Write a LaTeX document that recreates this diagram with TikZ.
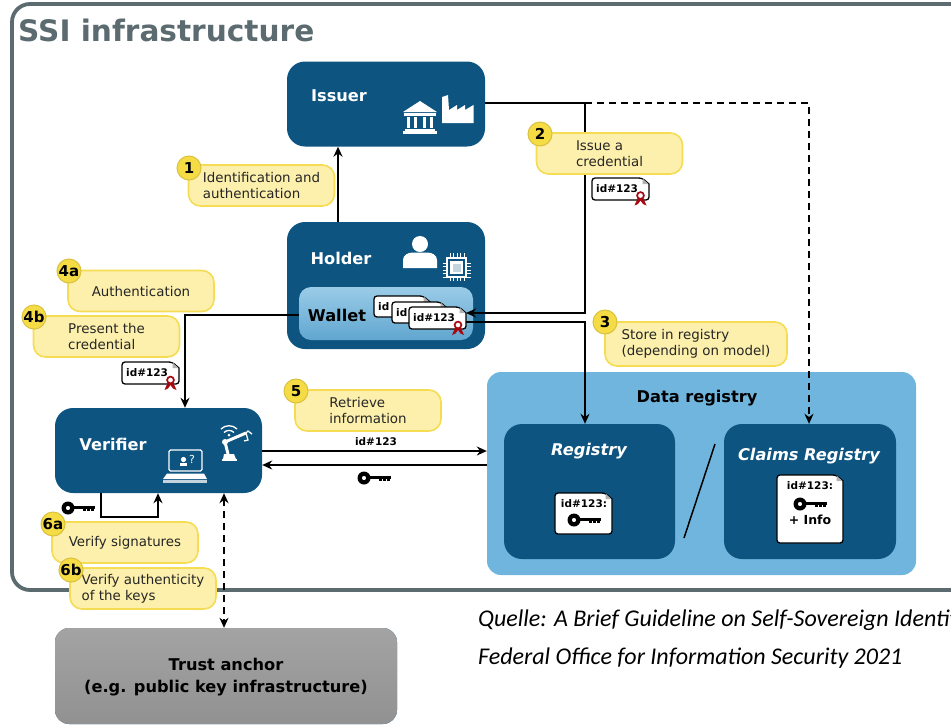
\documentclass[tikz,border=0pt]{standalone}
\usepackage{fontspec}
\setmainfont{DejaVu Sans}
\newfontfamily\sourcefont{Carlito}
\usetikzlibrary{arrows.meta,calc}

\definecolor{boxblue}{HTML}{0D5481}
\definecolor{regblue}{HTML}{6FB5DD}
\definecolor{framegray}{HTML}{5B6B70}
\definecolor{noteyellow}{HTML}{FCF0AC}
\definecolor{noteline}{HTML}{F6DC52}
\definecolor{badgeyellow}{HTML}{F5DC45}
\definecolor{badgeline}{HTML}{D9C142}
\definecolor{sealred}{HTML}{A8080F}

\tikzset{
	box/.style={fill=boxblue,rounded corners=18pt,inner sep=0pt},
	boxlabel/.style={text=white,font=\fontsize{16.2}{20}\selectfont\bfseries,inner sep=0pt},
	note/.style={draw=noteline,fill=noteyellow,line width=1.6pt,rounded corners=12pt,minimum width=146pt,minimum height=41pt,inner sep=0pt,align=left,text=black!85,font=\fontsize{13.4}{16}\selectfont},
	badge/.style={circle,draw=badgeline,fill=badgeyellow,line width=1pt,minimum size=24pt,inner sep=0pt,font=\fontsize{15}{16}\selectfont\bfseries},
	flow/.style={line width=1.5pt,-{Stealth[length=10pt,width=9pt]}},
	flowdash/.style={flow,dash pattern=on 7pt off 5pt},
	doclabel/.style={inner sep=0pt,font=\fontsize{10.5}{12}\selectfont\bfseries},
	keyicon/.pic={
		\fill[even odd rule] (-11,0) circle[radius=6.5pt] (-11,0) circle[radius=2.2pt];
		\fill (-6,-2.2) rectangle (16,1.2);
		\foreach \t in {4,8,12}
			\fill (\t,0) rectangle (\t+2.5,3.2);
	},
	sealicon/.pic={
		\fill[sealred] (-2.5,2) -- (-6,10) -- (-2.5,8.5) -- (0,5) -- (2.5,8.5) -- (6,10) -- (2.5,2) -- cycle;
		\draw[sealred,fill=white,line width=1.7pt] (0,0) circle[radius=3.4pt];
	}
}

% name, x1, y1, x2, y2, text
\newcommand{\docnode}[6]{
	\draw[fill=white,line width=1.3pt,rounded corners=3pt] (#2,#5) -- (#2,#3) -- (#4-7,#3) [sharp corners] -- (#4,#3+6) [rounded corners=3pt] -- (#4,#5) -- cycle;
	\fill[black!30] (#4-6.5,#3+.5) -- (#4-.5,#3+6) -- (#4-6.5,#3+6) -- cycle;
	\node[doclabel,anchor=west] (#1) at ($(#2+4,#3)!.5!(#2+4,#5)$) {#6};
}

\begin{document}
\begin{tikzpicture}[x=1pt,y=-1pt]
	\path[use as bounding box,clip] (0,0) rectangle (951,724);

	% Frame
	\draw[framegray,line width=3.8pt,rounded corners=18pt] (1000,4) -- (12,4) -- (12,590) -- (1000,590);
	\node[anchor=west,inner sep=0pt,text=framegray,font=\fontsize{29.6}{34}\selectfont\bfseries] (title) at (18,30) {SSI infrastructure};

	% Boxes
	\node[box,minimum width=198pt,minimum height=85pt] (issuer) at (386,104) {};
	\node[box,minimum width=198pt,minimum height=127pt] (holder) at (386,285.5) {};
	\node[box,minimum width=174pt,minimum height=53pt,top color=regblue!70!white,bottom color=regblue!85!boxblue,rounded corners=12pt] (wallet) at (386,313.5) {};
	\node[box,minimum width=207pt,minimum height=85pt] (verifier) at (158.5,450.5) {};
	\node[box,fill=regblue,rounded corners=14pt,minimum width=429pt,minimum height=203pt] (dataregistry) at (701.5,473.5) {};
	\node[box,minimum width=171pt,minimum height=135pt] (registry) at (589.5,491.5) {};
	\node[box,minimum width=172pt,minimum height=135pt] (claims) at (810,491.5) {};
	\node[box,top color=black!36,bottom color=black!43,rounded corners=14pt,minimum width=342pt,minimum height=96pt] (anchor) at (226,676) {};

	% Box labels
	\node[boxlabel] (issuertext) at (339,96) {Issuer};
	\node[boxlabel] (holdertext) at (341,258) {Holder};
	\node[boxlabel,text=black] (wallettext) at (337,315) {Wallet};
	\node[boxlabel] (verifiertext) at (113,444) {Verifier};
	\node[boxlabel,text=black] (datatext) at (697,398) {Data registry};
	\node[boxlabel,font=\fontsize{16.2}{20}\selectfont\bfseries\itshape] (registrytext) at (589,451) {Registry};
	\node[boxlabel,font=\fontsize{16.2}{20}\selectfont\bfseries\itshape] (claimstext) at (809,456) {Claims Registry};
	\node[boxlabel,text=black,align=center,font=\fontsize{16.2}{22}\selectfont\bfseries] (anchortext) at (226,677) {Trust anchor\\(e.g. public key infrastructure)};

	% Issuer icons
	\fill[white] (403,112) -- (420,101) -- (437,112) -- cycle;
	\fill[white] (404,113) rectangle (436,115.5);
	\foreach \c in {407,414,423,430}
		\fill[white] (\c,116.5) rectangle (\c+3.4,128);
	\fill[white] (405,128.5) rectangle (435,130.5);
	\fill[white] (403,131) rectangle (437,133.5);
	\fill[white] (442,123) -- (442,97) -- (448,95) -- (449,110) -- (457,105) -- (457,110) -- (465,105) -- (465,110) -- (473.5,105) -- (473.5,123) -- cycle;

	% Holder icons
	\fill[white] (420,244) circle[radius=8pt];
	\fill[white] (403,268) -- (403,260) .. controls (403,255) and (408,252.5) .. (413,252.5) -- (427,252.5) .. controls (432,252.5) and (437,255) .. (437,260) -- (437,268) -- cycle;
	\foreach \p in {450,453.5,457,460.5,464} {
		\draw[white,line width=.8pt] (\p,253) -- (\p,281);
		\draw[white,line width=.8pt] (442.5,\p-187) -- (470.5,\p-187);
	}
	\draw[white,line width=1.2pt,fill=boxblue] (447,258) rectangle (466,277);
	\fill[white] (450,261) rectangle (463,274);
	\fill[boxblue!25] (452.5,263.5) rectangle (460.5,271.5);

	% Verifier icons
	\draw[white,line width=1.2pt,rounded corners=1.5pt] (169,450) rectangle (202,471);
	\fill[white] (180,466) -- (180,463) -- (187,463) -- (187,466) -- cycle;
	\fill[white] (183.5,459.5) circle[radius=2.6pt];
	\node[inner sep=0pt,text=white,font=\fontsize{11}{12}\selectfont] (laptopmark) at (192,459) {?};
	\fill[white] (167,473.5) -- (204,473.5) -- (207,479) -- (163,479) -- cycle;
	\fill[white!75!boxblue] (163,480) rectangle (207,483);
	\draw[white,line width=1.3pt] (221,429) to[bend left=45] (237,429);
	\draw[white,line width=1.3pt] (224,432.5) to[bend left=45] (234,432.5);
	\fill[white] (229,435) circle[radius=1.5pt];
	\fill[white] (222,459) rectangle (237,460.5);
	\fill[white] (224,454) -- (234,454) -- (236,459) -- (223,459) -- cycle;
	\draw[white,line width=3pt] (228,454) -- (225,442) -- (246,433);
	\fill[white] (225,442) circle[radius=3pt];
	\draw[white,line width=1.3pt] (246,433) -- (248,431) -- (252,434);
	\draw[white,line width=1.3pt] (246,433) -- (248,440) -- (244,441);

	% Documents
	\docnode{heldone}{374}{296}{430}{317}{id}
	\docnode{heldtwo}{392}{302}{447}{323}{id}
	\docnode{heldthree}{409}{307}{466}{329}{id\#123}
	\pic at (458,325) {sealicon};
	\docnode{issued}{592}{178}{649}{200}{id\#123}
	\pic at (640.5,195.5) {sealicon};
	\docnode{presented}{122}{362}{179}{384}{id\#123}
	\pic at (170.5,380) {sealicon};
	\docnode{regdoc}{555}{493}{612}{534}{}
	\node[doclabel] (regid) at (584,504) {id\#123:};
	\pic at (585,520) {keyicon};
	\docnode{claimdoc}{777}{475}{843}{543}{}
	\node[doclabel] (claimid) at (810,486) {id\#123:};
	\pic at (811,504) {keyicon};
	\node[inner sep=0pt,font=\fontsize{12.5}{14}\selectfont\bfseries] (claiminfo) at (810,520) {+ Info};

	% Connectors
	\coordinate (upline) at (338,0);
	\coordinate (branch) at (585,103);
	\coordinate (issuein) at (585,313);
	\coordinate (storeout) at (585,322);
	\coordinate (dashturn) at (809,103);
	\coordinate (presentturn) at (185,315);
	\coordinate (idline) at (0,451);
	\coordinate (keyline) at (0,465);
	\coordinate (loopa) at (101,517);
	\coordinate (loopb) at (158,517);
	\coordinate (trustline) at (224,0);
	\coordinate (docright) at (466,0);
	\draw[flow] (holder.north -| upline) -- (issuer.south -| upline);
	\draw[flow] (issuer.east |- branch) -- (branch) -- (issuein) -- (docright |- issuein);
	\draw[flowdash] (branch) -- (dashturn) -- (claims.north -| dashturn);
	\draw[flow] (docright |- storeout) -- (storeout) -- (registry.north -| storeout);
	\draw[flow] (wallet.west |- presentturn) -- (presentturn) -- (verifier.north -| presentturn);
	\draw[flow] (verifier.east |- idline) -- (dataregistry.west |- idline);
	\draw[flow] (dataregistry.west |- keyline) -- (verifier.east |- keyline);
	\draw[flow] (verifier.south -| loopa) -- (loopa) -- (loopb) -- (verifier.south -| loopb);
	\draw[flowdash,{Stealth[length=10pt,width=9pt]}-{Stealth[length=10pt,width=9pt]}] (verifier.south -| trustline) -- (anchor.north -| trustline);
	\draw[line width=1.5pt] (684,538) -- (715,444);

	% Connector marks
	\node[doclabel] (idtext) at (376,442) {id\#123};
	\pic at (375,478) {keyicon};
	\pic at (79,508) {keyicon};

	% Notes
	\node[note] (noteone) at (261.5,185.5) {Identification and\\authentication};
	\node[note] (notetwo) at (609.5,153.5) {Issue a\\credential};
	\node[note,minimum width=182pt,minimum height=44pt] (notethree) at (696,344) {Store in registry\\(depending on model)};
	\node[note] (notefoura) at (141,291) {Authentication};
	\node[note] (notefourb) at (106.5,336.5) {Present the\\credential};
	\node[note] (notefive) at (368,410.5) {Retrieve\\information};
	\node[note] (notesixa) at (125,542.5) {Verify signatures};
	\node[note] (notesixb) at (143,588.5) {Verify authenticity\\of the keys};

	% Badges
	\node[badge] (badgeone) at (189,168) {1};
	\node[badge] (badgetwo) at (540,134) {2};
	\node[badge] (badgethree) at (605,322) {3};
	\node[badge] (badgefoura) at (69,271) {4a};
	\node[badge] (badgefourb) at (34,317) {4b};
	\node[badge] (badgefive) at (296,391) {5};
	\node[badge] (badgesixa) at (53,524) {6a};
	\node[badge] (badgesixb) at (71,570) {6b};

	% Source
	\node[anchor=west,inner sep=0pt,font=\sourcefont\itshape\fontsize{24}{26}\selectfont] (sourceone) at (478,620) {Quelle: A Brief Guideline on Self-Sovereign Identit};
	\node[anchor=west,inner sep=0pt,font=\sourcefont\itshape\fontsize{24}{26}\selectfont] (sourcetwo) at (478,658) {Federal Office for Information Security 2021};
\end{tikzpicture}
\end{document}
